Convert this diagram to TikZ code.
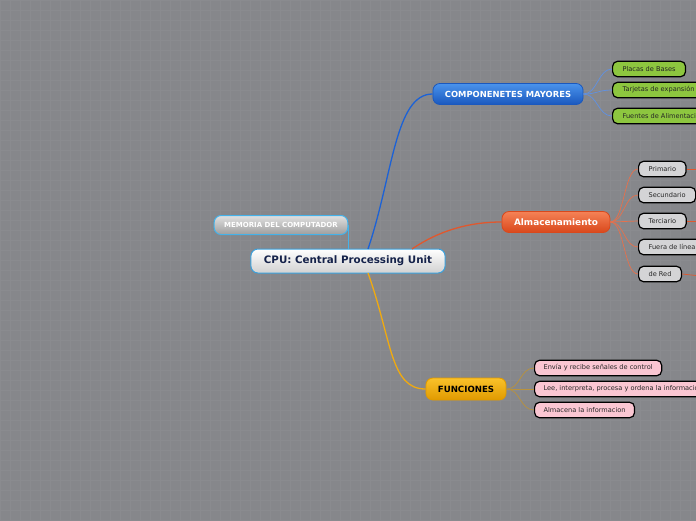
\documentclass[tikz,border=0pt]{standalone}
\usepackage{fontspec}
\setmainfont{DejaVu Sans}
\usetikzlibrary{calc}
\definecolor{bgc}{HTML}{86878B}
\definecolor{gridc}{HTML}{8A8B8F}
\definecolor{cpuborder}{HTML}{3AA0DC}
\definecolor{navy}{HTML}{15224A}
\definecolor{compA}{HTML}{4A93EC}
\definecolor{compB}{HTML}{1A58BE}
\definecolor{compline}{HTML}{1C62D6}
\definecolor{almA}{HTML}{F58256}
\definecolor{almB}{HTML}{D9481C}
\definecolor{almline}{HTML}{E0582E}
\definecolor{funA}{HTML}{FAC22A}
\definecolor{funB}{HTML}{E09A00}
\definecolor{funline}{HTML}{F0AA10}
\definecolor{leafgreen}{HTML}{8DC63F}
\definecolor{leafgrey}{HTML}{D4D4D6}
\definecolor{leafpink}{HTML}{FAC6D2}
\definecolor{memborder}{HTML}{44B2EA}
\tikzset{
  mainbox/.style={rounded corners=7pt, inner ysep=0pt, font=\bfseries},
  leafbox/.style={draw=black, line width=1.2pt, rounded corners=5pt, minimum height=15.5pt,
     inner ysep=0pt, inner xsep=10pt, anchor=west, text=black!85,
     font=\fontsize{6.6}{7}\selectfont},
  thin/.style={line width=0.7pt},
}
\begin{document}
\begin{tikzpicture}[x=1pt,y=-1pt]
\useasboundingbox (0,0) rectangle (696,520);
\fill[bgc] (0,0) rectangle (696,520);
\draw[gridc, line width=1pt, step=10pt] (0,0) grid (696,520);

% main nodes
\node[mainbox, draw=cpuborder, line width=1pt, top color=white, bottom color=black!18,
  inner xsep=13pt, minimum height=24pt, text=navy, font=\fontsize{10.3}{12}\selectfont\bfseries]
  (cpu) at (348,261) {CPU: Central Processing Unit};
\node[mainbox, draw=memborder, line width=1pt, top color=black!12, bottom color=black!38,
  inner xsep=10pt, minimum height=19pt, text=white, font=\fontsize{7}{8}\selectfont\bfseries]
  (mem) at (281,225) {MEMORIA DEL COMPUTADOR};
\node[mainbox, draw=compB, line width=0.8pt, top color=compA, bottom color=compB,
  inner xsep=12pt, minimum height=21pt, text=white, font=\fontsize{8.4}{10}\selectfont\bfseries]
  (comp) at (508,94) {COMPONENETES MAYORES};
\node[mainbox, draw=almB, line width=0.8pt, top color=almA, bottom color=almB,
  inner xsep=12pt, minimum height=21pt, text=white, font=\fontsize{8.9}{10}\selectfont\bfseries]
  (alm) at (556,222) {Almacenamiento};
\node[mainbox, draw=funB, line width=0.8pt, top color=funA, bottom color=funB,
  inner xsep=12pt, minimum height=22pt, text=black, font=\fontsize{8.6}{10}\selectfont\bfseries]
  (fun) at (466,389) {FUNCIONES};

% main connectors
\coordinate (cpuA) at (368,249);
\coordinate (cpuB) at (412,249);
\coordinate (cpuC) at (368,273);
\draw[compline, line width=1.3pt] (cpuA) .. controls (393,175) and (395,94) .. (comp.west);
\draw[almline, line width=1.3pt] (cpuB) .. controls (440,230) and (470,222) .. (alm.west);
\draw[funline, line width=1.3pt] (cpuC) .. controls (392,340) and (390,389) .. (fun.west);
\draw[memborder, line width=1.3pt] (mem.east) -- (mem.east |- cpu.north);

% green leaves
\node[leafbox, fill=leafgreen] (g1) at (612,69) {Placas de Bases};
\node[leafbox, fill=leafgreen] (g2) at (612,90) {Tarjetas de expansión};
\node[leafbox, fill=leafgreen] (g3) at (612,116) {Fuentes de Alimentación};
\foreach \n in {g1,g2,g3}
  \draw[thin, compline!70!white] (comp.east) .. controls ($(comp.east)+(14,0)$) and ($(\n.west)+(-14,0)$) .. (\n.west);

% grey leaves
\node[leafbox, fill=leafgrey] (s1) at (638,169) {Primario};
\node[leafbox, fill=leafgrey] (s2) at (638,195) {Secundario};
\node[leafbox, fill=leafgrey] (s3) at (638,221) {Terciario};
\node[leafbox, fill=leafgrey] (s4) at (638,247) {Fuera de línea};
\node[leafbox, fill=leafgrey] (s5) at (638,274) {de Red};
\foreach \n in {s1,s2,s3,s4,s5}
  \draw[thin, almline!85!white] (alm.east) .. controls ($(alm.east)+(14,0)$) and ($(\n.west)+(-14,0)$) .. (\n.west);
\coordinate (o1) at (710,169);
\coordinate (o3) at (710,221);
\coordinate (o5) at (710,277);
\draw[thin, almline] (s1.east) -- (o1);
\draw[thin, almline] (s3.east) -- (o3);
\draw[thin, almline] (s5.east) -- (o5);

% pink leaves
\node[leafbox, fill=leafpink, inner xsep=9pt] (p1) at (534,368) {Envía y recibe señales de control};
\node[leafbox, fill=leafpink, inner xsep=9pt] (p2) at (534,389) {Lee, interpreta, procesa y ordena la información};
\node[leafbox, fill=leafpink, inner xsep=9pt] (p3) at (534,410) {Almacena la informacion};
\foreach \n in {p1,p2,p3}
  \draw[thin, funline!70!black!80!white] (fun.east) .. controls ($(fun.east)+(14,0)$) and ($(\n.west)+(-14,0)$) .. (\n.west);
\end{tikzpicture}
\end{document}
